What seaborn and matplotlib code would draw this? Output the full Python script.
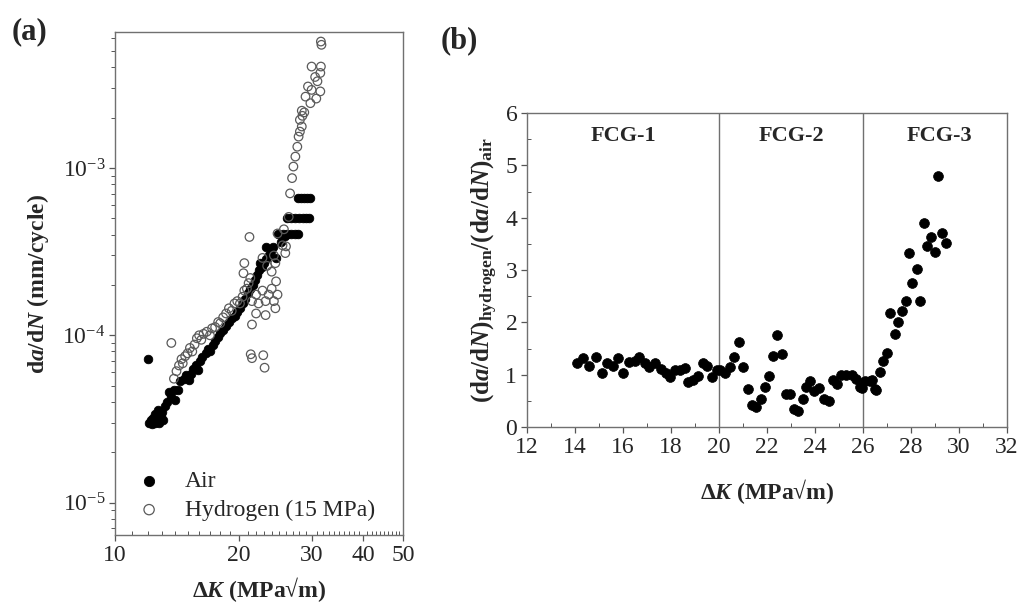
import matplotlib
matplotlib.use("Agg")
import matplotlib.pyplot as plt
import numpy as np
import pandas as pd
import seaborn as sns
from matplotlib.ticker import LogLocator, FixedLocator, NullFormatter, LogFormatterSciNotation, MultipleLocator

# ---- panel (a): crack growth rate vs stress intensity range ----
air_dk = [12.0, 12.1, 12.2, 12.3, 12.35, 12.5, 12.5, 12.6, 12.7, 12.8, 12.9, 13.0, 13.1, 13.2,
          13.4, 13.5, 13.7, 13.9, 14.0, 14.2, 14.4, 14.7, 14.9, 15.1, 15.3, 15.5, 15.7, 15.9,
          16.1, 16.3, 16.6, 16.8, 17.0, 17.3, 17.5, 17.8, 18.0, 18.3, 18.6, 18.9, 19.2, 19.5,
          19.8, 20.1, 20.4, 20.7, 21.0, 21.3, 21.6, 21.9, 22.1, 22.4, 22.7, 23.0, 23.3, 23.6,
          23.9, 24.2, 22.5, 23.2, 24.6, 25.3, 25.9,
          24.9, 25.5, 26.1, 26.7, 27.3, 27.8,
          26.2, 26.8, 27.4, 28.0, 28.6, 29.1, 29.6,
          27.8, 28.3, 28.8, 29.3, 29.8]
air_rate = [7.2e-5, 3.0e-5, 3.1e-5, 2.95e-5, 3.2e-5, 3.0e-5, 3.4e-5, 3.1e-5, 3.6e-5, 3.0e-5, 3.3e-5, 3.5e-5, 3.1e-5, 3.8e-5,
            4.0e-5, 4.6e-5, 4.3e-5, 4.7e-5, 4.1e-5, 4.7e-5, 5.3e-5, 5.5e-5, 5.8e-5, 5.4e-5, 5.9e-5, 6.3e-5, 6.6e-5, 6.2e-5,
            7.0e-5, 7.4e-5, 7.8e-5, 8.3e-5, 8.0e-5, 8.8e-5, 9.3e-5, 9.8e-5, 1.03e-4, 1.08e-4, 1.14e-4, 1.2e-4, 1.26e-4, 1.3e-4,
            1.38e-4, 1.45e-4, 1.55e-4, 1.65e-4, 1.78e-4, 1.9e-4, 2.0e-4, 2.15e-4, 2.3e-4, 2.45e-4, 2.55e-4, 2.7e-4, 2.85e-4, 3.0e-4,
            3.2e-4, 3.35e-4, 2.7e-4, 3.35e-4, 2.9e-4, 3.6e-4, 3.9e-4,
            4.05e-4, 4.05e-4, 4.05e-4, 4.05e-4, 4.05e-4, 4.05e-4,
            5.0e-4, 5.0e-4, 5.0e-4, 5.0e-4, 5.0e-4, 5.0e-4, 5.0e-4,
            6.65e-4, 6.65e-4, 6.65e-4, 6.65e-4, 6.65e-4]

h2_dk = [13.7, 13.9, 14.1, 14.3, 14.5, 14.6, 14.8, 15.0, 15.2, 15.4, 15.6, 15.8, 16.0, 16.2,
         16.4, 16.7, 17.0, 17.2, 17.5, 17.8, 18.0, 18.3, 18.6, 18.9, 19.2, 19.5, 19.8, 20.1,
         20.4, 20.6, 20.9, 21.1, 21.3, 20.6, 20.5,
         21.5, 22.0, 22.3, 22.8, 23.2, 23.6, 24.0, 24.3, 24.6, 24.5, 23.2, 21.5, 22.0, 24.8,
         21.35, 21.5, 22.9, 23.07,
         21.2, 22.8, 23.4, 24.0, 24.5, 24.8, 25.5, 25.9, 24.3, 26.0, 26.4, 25.7,
         26.6, 26.9, 27.1, 27.4, 27.7, 27.9, 28.1, 28.4, 28.4, 28.1, 28.5, 29.0, 29.8, 28.8,
         29.4, 30.0, 31.5, 30.6, 31.5, 30.0, 31.6, 31.0, 30.8, 31.6, 31.7]
h2_rate = [9.0e-5, 5.5e-5, 6.1e-5, 6.6e-5, 7.2e-5, 6.8e-5, 7.5e-5, 7.8e-5, 8.4e-5, 8.0e-5, 8.8e-5, 9.6e-5, 1.0e-4, 9.4e-5,
           1.02e-4, 1.05e-4, 1.0e-4, 1.1e-4, 1.12e-4, 1.2e-4, 1.18e-4, 1.28e-4, 1.35e-4, 1.45e-4, 1.4e-4, 1.55e-4, 1.6e-4, 1.55e-4,
           1.7e-4, 1.85e-4, 1.9e-4, 2.05e-4, 2.2e-4, 2.7e-4, 2.35e-4,
           1.6e-4, 1.75e-4, 1.55e-4, 1.85e-4, 1.6e-4, 1.75e-4, 1.9e-4, 1.6e-4, 2.1e-4, 1.45e-4, 1.32e-4, 1.16e-4, 1.35e-4, 1.75e-4,
           7.7e-5, 7.3e-5, 7.6e-5, 6.4e-5,
           3.87e-4, 2.9e-4, 2.6e-4, 2.4e-4, 2.7e-4, 4.06e-4, 3.45e-4, 3.1e-4, 3.0e-4, 3.4e-4, 5.1e-4, 4.3e-4,
           7.05e-4, 8.7e-4, 1.02e-3, 1.17e-3, 1.34e-3, 1.54e-3, 1.65e-3, 1.77e-3, 2.2e-3, 1.94e-3, 2.05e-3, 2.67e-3, 2.44e-3, 2.15e-3,
           3.07e-3, 2.93e-3, 2.87e-3, 3.5e-3, 3.7e-3, 4.04e-3, 4.04e-3, 3.3e-3, 2.6e-3, 5.7e-3, 5.45e-3]

# ---- panel (b): ratio of hydrogen to air growth rate ----
ratio_dk = [14.07, 14.35, 14.6, 14.86, 15.11, 15.32, 15.57, 15.79, 16.01, 16.26, 16.5, 16.68, 16.92,
            17.1, 17.33, 17.57, 17.8, 17.96, 18.17, 18.38, 18.58, 18.72, 18.9, 19.11, 19.32, 19.51,
            19.7, 19.9, 20.04, 20.25, 20.46, 20.64, 20.85, 21.01, 21.2, 21.36, 21.54, 21.74, 21.92,
            22.08, 22.24, 22.43, 22.61, 22.79, 22.96, 23.14, 23.3, 23.49, 23.62, 23.79, 23.97, 24.18,
            24.38, 24.6, 24.77, 24.93, 25.1, 25.29, 25.53, 25.71, 25.88, 25.95, 26.08, 26.29, 26.36,
            26.5, 26.54, 26.71, 26.85, 27.01, 27.13, 27.33, 27.47, 27.63, 27.79, 27.9, 28.05, 28.24,
            28.38, 28.54, 28.68, 28.83, 29.0, 29.14, 29.28, 29.46]
ratio_val = [1.23, 1.31, 1.17, 1.34, 1.04, 1.23, 1.17, 1.32, 1.03, 1.25, 1.27, 1.34, 1.23,
             1.15, 1.22, 1.10, 1.04, 0.95, 1.08, 1.08, 1.12, 0.86, 0.90, 0.98, 1.23, 1.17,
             0.96, 1.09, 1.09, 1.04, 1.15, 1.33, 1.63, 1.15, 0.72, 0.42, 0.38, 0.53, 0.77,
             0.98, 1.36, 1.76, 1.40, 0.64, 0.64, 0.34, 0.31, 0.53, 0.77, 0.88, 0.68, 0.74,
             0.53, 0.50, 0.89, 0.83, 0.99, 0.99, 0.99, 0.91, 0.77, 0.74, 0.87, 0.87, 0.89,
             0.72, 0.71, 1.06, 1.27, 1.42, 2.17, 1.78, 2.01, 2.22, 2.40, 3.32, 2.75, 3.01,
             2.40, 3.89, 3.45, 3.64, 3.35, 4.80, 3.70, 3.52]

region_labels = ["FCG-1", "FCG-2", "FCG-3"]
region_x = [16.0, 23.0, 29.2]
region_bounds = [20, 26]

sns.set_theme(style="white")
plt.rcParams['font.family'] = ['Liberation Serif', 'DejaVu Serif']
plt.rcParams['mathtext.fontset'] = 'custom'
plt.rcParams['mathtext.rm'] = 'Liberation Serif'
plt.rcParams['mathtext.bf'] = 'Liberation Serif:bold'
plt.rcParams['mathtext.it'] = 'Liberation Serif:bold:italic'
plt.rcParams['axes.edgecolor'] = '#707070'
plt.rcParams['axes.linewidth'] = 1.0

fig = plt.figure(figsize=(10.24, 6.03), dpi=100)
ax_a = fig.add_axes([115 / 1024, 1 - 535 / 603, 288 / 1024, 503 / 603])
ax_b = fig.add_axes([527 / 1024, 1 - 427 / 603, 480 / 1024, 314 / 603])

df_air = pd.DataFrame({'dk': air_dk, 'rate': air_rate})
df_h2 = pd.DataFrame({'dk': h2_dk, 'rate': h2_rate})
df_ratio = pd.DataFrame({'dk': ratio_dk, 'ratio': ratio_val})

tick_color = '#555555'

# panel (a)
ax_a.set_xscale('log')
ax_a.set_yscale('log')
sns.scatterplot(data=df_air, x='dk', y='rate', ax=ax_a, color='black', edgecolor='black',
                s=38, linewidth=0.6, label='Air', zorder=3)
sns.scatterplot(data=df_h2, x='dk', y='rate', ax=ax_a, facecolor='none', edgecolor='#5a5a5a',
                s=38, linewidth=0.9, label='Hydrogen (15 MPa)', zorder=4)
ax_a.set_xlim(10, 50)
ax_a.set_ylim(6.4e-6, 6.5e-3)
ax_a.xaxis.set_major_locator(FixedLocator([10, 20, 30, 40, 50]))
ax_a.xaxis.set_major_formatter(matplotlib.ticker.FixedFormatter(['10', '20', '30', '40', '50']))
ax_a.xaxis.set_minor_locator(FixedLocator(np.arange(11, 50, 1)))
ax_a.xaxis.set_minor_formatter(NullFormatter())
ax_a.yaxis.set_major_locator(LogLocator(base=10, numticks=10))
ax_a.yaxis.set_major_formatter(LogFormatterSciNotation())
ax_a.yaxis.set_minor_locator(LogLocator(base=10, subs=np.arange(2, 10), numticks=10))
ax_a.yaxis.set_minor_formatter(NullFormatter())
ax_a.tick_params(which='major', direction='out', length=4, width=0.9, color=tick_color,
                 labelsize=17, pad=3, bottom=True, left=True)
ax_a.tick_params(which='minor', direction='in', length=3, width=0.7, color=tick_color,
                 bottom=True, left=True)
ax_a.tick_params(axis='y', which='minor', direction='out')
ax_a.set_xlabel('Δ$\\mathit{K}$ (MPa√m)', fontsize=17, fontweight='bold', labelpad=7)
ax_a.set_ylabel('d$\\mathit{a}$/d$\\mathit{N}$ (mm/cycle)', fontsize=17, fontweight='bold', labelpad=8)
leg = ax_a.legend(loc='lower left', frameon=False, fontsize=17, handletextpad=0.9,
                  handlelength=1.2, borderaxespad=0.2, labelspacing=0.3, markerscale=1.2,
                  bbox_to_anchor=(0.02, 0.0))
ax_a.text(-0.36, 1.0, '(a)', transform=ax_a.transAxes, fontsize=22, fontweight='bold',
          ha='left', va='center')

# panel (b)
sns.scatterplot(data=df_ratio, x='dk', y='ratio', ax=ax_b, color='black', edgecolor='black',
                s=50, linewidth=0.5, zorder=3)
for xb in region_bounds:
    ax_b.axvline(xb, color='#707070', linewidth=1.0, zorder=1)
for lbl, xc in zip(region_labels, region_x):
    ax_b.text(xc, 5.56, lbl, fontsize=16, fontweight='bold', ha='center', va='center')
ax_b.set_xlim(12, 32)
ax_b.set_ylim(0, 6)
ax_b.xaxis.set_major_locator(MultipleLocator(2))
ax_b.xaxis.set_minor_locator(MultipleLocator(1))
ax_b.yaxis.set_major_locator(MultipleLocator(1))
ax_b.yaxis.set_minor_locator(MultipleLocator(0.5))
ax_b.tick_params(which='major', direction='out', length=4, width=0.9, color=tick_color,
                 labelsize=17, pad=3, bottom=True, left=True)
ax_b.tick_params(which='minor', direction='in', length=3, width=0.7, color=tick_color,
                 bottom=True, left=True)
ax_b.set_xlabel('Δ$\\mathit{K}$ (MPa√m)', fontsize=17, fontweight='bold', labelpad=14)
ax_b.set_ylabel('$\\mathbf{(d}\\mathit{a}\\mathbf{/d}\\mathit{N}\\mathbf{)}_{\\mathbf{hydrogen}}'
                '\\mathbf{/(d}\\mathit{a}\\mathbf{/d}\\mathit{N}\\mathbf{)}_{\\mathbf{air}}$',
                fontsize=18, labelpad=4)
ax_b.text(-0.18, 1.23, '(b)', transform=ax_b.transAxes, fontsize=22, fontweight='bold',
          ha='left', va='center')

for ax in (ax_a, ax_b):
    for sp in ax.spines.values():
        sp.set_visible(True)
        sp.set_color('#707070')

fig.savefig('out.png', dpi=100)
